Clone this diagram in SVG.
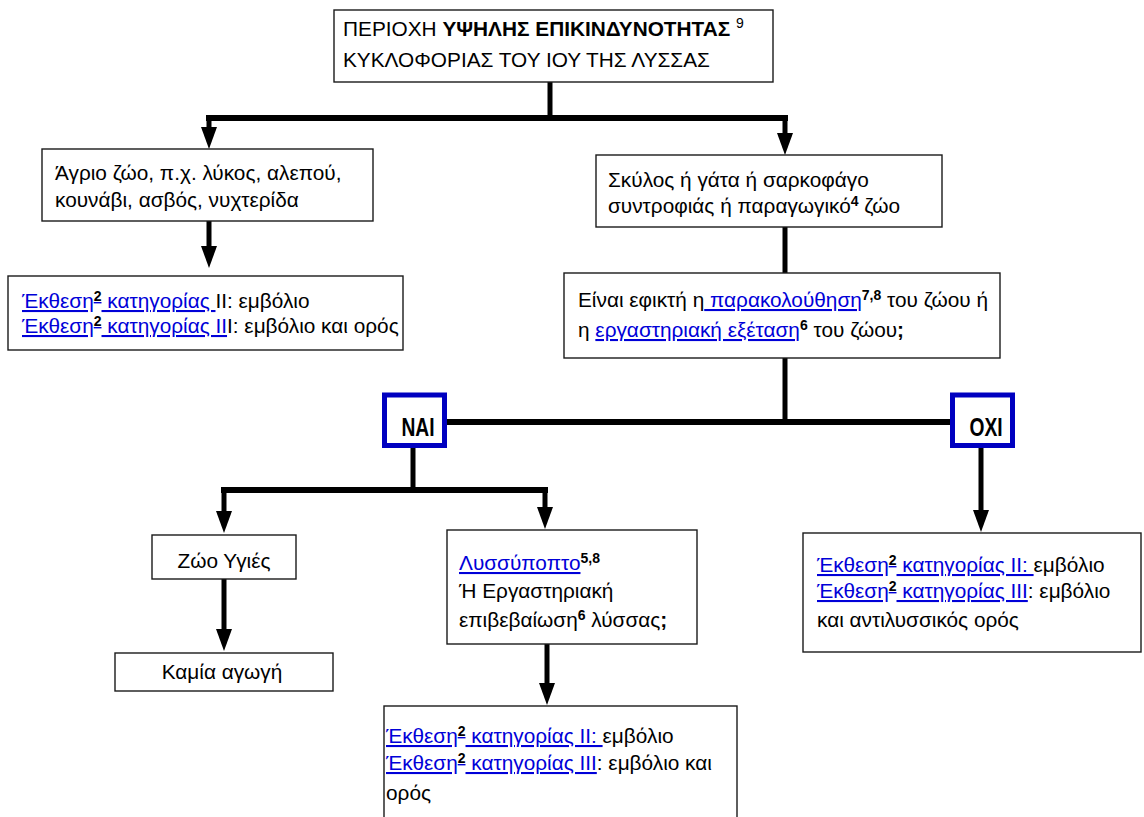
<svg xmlns="http://www.w3.org/2000/svg" width="1144" height="817" viewBox="0 0 1144 817">
<defs>
<style>
.box{fill:#fff;stroke:#1a1a1a;stroke-width:1.4}
.yn{fill:#fff;stroke:#0000c0;stroke-width:5}
.t{font-family:"Liberation Sans",Arial,sans-serif;font-size:20.8px;fill:#000}
.lk{fill:#0000d8;text-decoration:underline}
.sup{font-weight:bold;font-size:14px;fill:#000}
.b{font-weight:bold}
.yt{font-family:"Liberation Sans",Arial,sans-serif;font-size:26px;font-weight:bold;fill:#000;text-anchor:middle}
.con{stroke:#000;stroke-width:5;fill:none}
.thick{stroke-width:6}
</style>
<marker id="ah" markerUnits="userSpaceOnUse" markerWidth="22" markerHeight="16" viewBox="0 0 22 16" refX="0" refY="8" orient="auto">
<path d="M0,0 L22,8 L0,16 z" fill="#000"/>
</marker>
</defs>
<rect width="1144" height="817" fill="#fff"/>

<g id="connectors">
<path class="con" d="M550,82 V118"/>
<path class="con thick" d="M206,118 H788"/>
<path class="con" d="M209,118 V127" marker-end="url(#ah)"/>
<path class="con" d="M785,118 V133" marker-end="url(#ah)"/>
<path class="con" d="M209,221 V246" marker-end="url(#ah)"/>
<path class="con" d="M785,227 V273"/>
<path class="con" d="M785,358 V422"/>
<path class="con thick" d="M447,422 H952"/>
<path class="con" d="M413,448 V490"/>
<path class="con thick" d="M221,490 H548"/>
<path class="con" d="M224,490 V511" marker-end="url(#ah)"/>
<path class="con" d="M545,490 V507" marker-end="url(#ah)"/>
<path class="con" d="M224,579 V629" marker-end="url(#ah)"/>
<path class="con" d="M547,644 V683" marker-end="url(#ah)"/>
<path class="con" d="M981,448 V510" marker-end="url(#ah)"/>
</g>

<g id="n-top">
<rect class="box" x="334" y="10" width="439" height="72"/>
<text class="t" x="343" y="36">ΠΕΡΙΟΧΗ <tspan class="b">ΥΨΗΛΗΣ ΕΠΙΚΙΝΔΥΝΟΤΗΤΑΣ</tspan> <tspan font-size="14" dy="-8">9</tspan></text>
<text class="t" x="343" y="67">ΚΥΚΛΟΦΟΡΙΑΣ ΤΟΥ ΙΟΥ ΤΗΣ ΛΥΣΣΑΣ</text>
</g>

<g id="n-wild">
<rect class="box" x="42" y="149" width="331" height="72"/>
<text class="t" x="55" y="180">Άγριο ζώο, π.χ. λύκος, αλεπού,</text>
<text class="t" x="55" y="207">κουνάβι, ασβός, νυχτερίδα</text>
</g>

<g id="n-wild-exp">
<rect class="box" x="8" y="276" width="395" height="74"/>
<text class="t" x="22" y="308"><tspan class="lk">Έκθεση<tspan class="sup" dy="-7">2</tspan><tspan dy="7"> κατηγορίας </tspan></tspan>ΙΙ: εμβόλιο</text>
<text class="t" x="22" y="333"><tspan class="lk">Έκθεση<tspan class="sup" dy="-7">2</tspan><tspan dy="7"> κατηγορίας ΙΙ</tspan></tspan>Ι: εμβόλιο και ορός</text>
</g>

<g id="n-pet">
<rect class="box" x="596" y="155" width="346" height="72"/>
<text class="t" x="608" y="187">Σκύλος ή γάτα ή σαρκοφάγο</text>
<text class="t" x="608" y="213">συντροφιάς ή παραγωγικό<tspan class="sup" dy="-7">4</tspan><tspan dy="7"> ζώο</tspan></text>
</g>

<g id="n-question">
<rect class="box" x="564" y="273" width="436" height="85"/>
<text class="t" x="578" y="307">Είναι εφικτή η<tspan class="lk"> παρακολούθηση</tspan><tspan class="sup" dy="-7">7,8</tspan><tspan dy="7"> του ζώου ή</tspan></text>
<text class="t" x="578" y="337">η <tspan class="lk">εργαστηριακή εξέταση</tspan><tspan class="sup" dy="-7">6</tspan><tspan dy="7"> του ζώου</tspan><tspan class="b">;</tspan></text>
</g>

<g id="n-yes">
<rect class="yn" x="384.5" y="395" width="60" height="50.5"/>
<text class="yt" transform="translate(418,436) scale(0.74,1)">ΝΑΙ</text>
</g>

<g id="n-no">
<rect class="yn" x="952.5" y="395" width="60" height="50.5"/>
<text class="yt" transform="translate(986,436) scale(0.74,1)">ΟΧΙ</text>
</g>

<g id="n-healthy">
<rect class="box" x="152" y="535" width="144" height="44"/>
<text class="t" x="224" y="568" text-anchor="middle">Ζώο Υγιές</text>
</g>

<g id="n-none">
<rect class="box" x="115" y="653" width="218" height="38"/>
<text class="t" x="222" y="679" text-anchor="middle">Καμία αγωγή</text>
</g>

<g id="n-suspect">
<rect class="box" x="447" y="530" width="250" height="114"/>
<text class="t" x="459" y="570"><tspan class="lk">Λυσσύποπτο</tspan><tspan class="sup" dy="-7">5,8</tspan></text>
<text class="t" x="459" y="598">Ή Εργαστηριακή</text>
<text class="t" x="459" y="627">επιβεβαίωση<tspan class="sup" dy="-7">6</tspan><tspan dy="7"> λύσσας</tspan><tspan class="b">;</tspan></text>
</g>

<g id="n-suspect-exp">
<rect class="box" x="384" y="706" width="353" height="130"/>
<text class="t" x="386" y="743"><tspan class="lk">Έκθεση<tspan class="sup" dy="-7">2</tspan><tspan dy="7"> κατηγορίας ΙΙ: </tspan></tspan>εμβόλιο</text>
<text class="t" x="386" y="770"><tspan class="lk">Έκθεση<tspan class="sup" dy="-7">2</tspan><tspan dy="7"> κατηγορίας ΙΙΙ</tspan></tspan>: εμβόλιο και</text>
<text class="t" x="386" y="800">ορός</text>
</g>

<g id="n-no-exp">
<rect class="box" x="803" y="533" width="338" height="119"/>
<text class="t" x="817" y="572"><tspan class="lk">Έκθεση<tspan class="sup" dy="-7">2</tspan><tspan dy="7"> κατηγορίας ΙΙ: </tspan></tspan>εμβόλιο</text>
<text class="t" x="817" y="598"><tspan class="lk">Έκθεση<tspan class="sup" dy="-7">2</tspan><tspan dy="7"> κατηγορίας ΙΙΙ</tspan></tspan>: εμβόλιο</text>
<text class="t" x="817" y="627">και αντιλυσσικός ορός</text>
</g>
</svg>
